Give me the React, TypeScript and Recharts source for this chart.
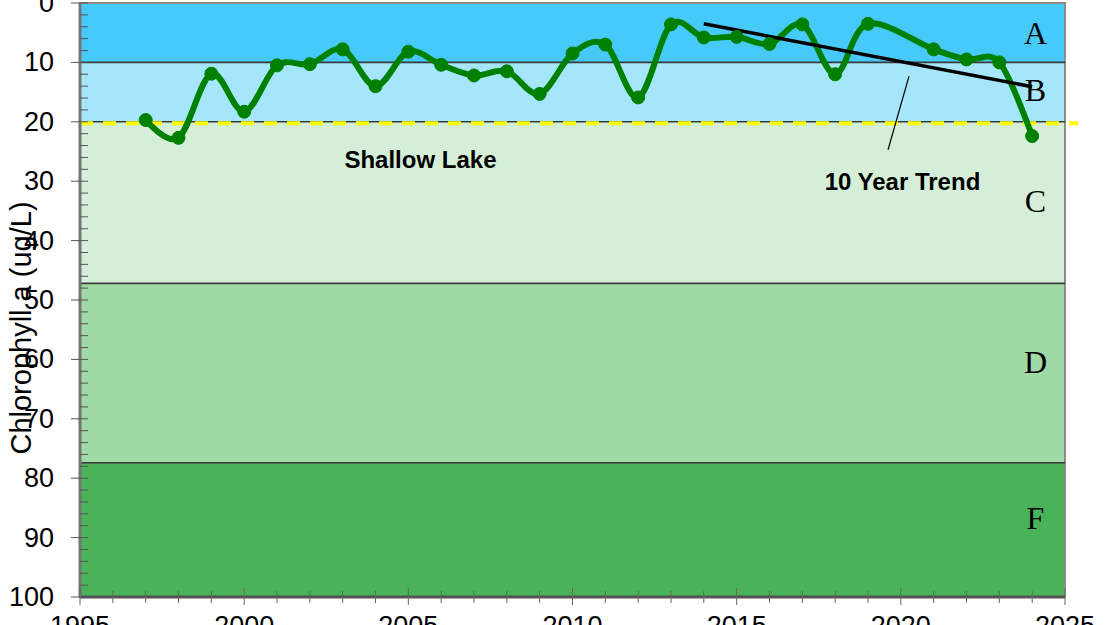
import React from 'react';
import {
  ComposedChart,
  Line,
  XAxis,
  YAxis,
  ReferenceArea,
  ReferenceLine,
  ReferenceDot,
} from 'recharts';

// ---- data ----
const years = [1997, 1998, 1999, 2000, 2001, 2002, 2003, 2004, 2005, 2006, 2007, 2008, 2009, 2010, 2011, 2012, 2013, 2014, 2015, 2016, 2017, 2018, 2019, 2021, 2022, 2023, 2024];
const chlorophyll = [19.7, 22.7, 11.9, 18.3, 10.5, 10.3, 7.8, 14.0, 8.2, 10.4, 12.2, 11.5, 15.3, 8.5, 7.0, 15.9, 3.6, 5.8, 5.7, 6.9, 3.6, 12.0, 3.5, 7.8, 9.5, 10.0, 22.4];

const trendYears = [2014, 2024];
const trendValues = [3.5, 14.1];

const xTicks = [1995, 1996, 1997, 1998, 1999, 2000, 2001, 2002, 2003, 2004, 2005, 2006, 2007, 2008, 2009, 2010, 2011, 2012, 2013, 2014, 2015, 2016, 2017, 2018, 2019, 2020, 2021, 2022, 2023, 2024, 2025];
const yTicks = [0, 2, 4, 6, 8, 10, 12, 14, 16, 18, 20, 22, 24, 26, 28, 30, 32, 34, 36, 38, 40, 42, 44, 46, 48, 50, 52, 54, 56, 58, 60, 62, 64, 66, 68, 70, 72, 74, 76, 78, 80, 82, 84, 86, 88, 90, 92, 94, 96, 98, 100];

const bandNames = ['A', 'B', 'C', 'D', 'F'];
const bandFrom = [0, 10, 20, 47.2, 77.4];
const bandTo = [10, 20, 47.2, 77.4, 100];
const bandColors = ['#45CAFA', '#A5E6FB', '#D5EED7', '#9ED9A6', '#4AB35A'];
const bandLabelY = [5, 14.6, 33.3, 60.4, 86.6];
const bandLabelX = 2024.1;

const shallowLakeStandard = 20.25;

const chartData = years.map((y, i) => ({ year: y, chl: chlorophyll[i] }));
const trendData = trendYears.map((y, i) => ({ year: y, trend: trendValues[i] }));

// Excel-like smoothed line (Catmull-Rom / cardinal, tension 0)
function excelSmooth(context: any) {
  const k = 1 / 6;
  let x0 = NaN, x1 = NaN, x2 = NaN, y0 = NaN, y1 = NaN, y2 = NaN;
  let pt = 0;
  const seg = (x: number, y: number) => {
    context.bezierCurveTo(
      x1 + k * (x2 - x0),
      y1 + k * (y2 - y0),
      x2 + k * (x1 - x),
      y2 + k * (y1 - y),
      x2,
      y2
    );
  };
  return {
    areaStart() {},
    areaEnd() {},
    lineStart() {
      x0 = x1 = x2 = y0 = y1 = y2 = NaN;
      pt = 0;
    },
    lineEnd() {
      if (pt === 2) context.lineTo(x2, y2);
      else if (pt === 3) seg(x1, y1);
    },
    point(xx: number, yy: number) {
      const x = +xx;
      const y = +yy;
      switch (pt) {
        case 0:
          pt = 1;
          context.moveTo(x, y);
          break;
        case 1:
          pt = 2;
          x1 = x;
          y1 = y;
          break;
        case 2:
          pt = 3;
          seg(x, y);
          break;
        default:
          seg(x, y);
          break;
      }
      x0 = x1; x1 = x2; x2 = x;
      y0 = y1; y1 = y2; y2 = y;
    },
  };
}

const FONT = 'Liberation Sans, Arial, sans-serif';

const YTick = (props: any) => {
  const { x, y, payload } = props;
  const major = payload.value % 10 === 0;
  return (
    <g>
      <line x1={major ? x - 9 : x} x2={x + 8} y1={y} y2={y} stroke="#555" strokeWidth={1} />
      {major && (
        <text x={x - 26} y={y} textAnchor="end" dominantBaseline="central" fontSize={27} fontFamily={FONT} fill="#000">
          {payload.value}
        </text>
      )}
    </g>
  );
};

const XTick = (props: any) => {
  const { x, y, payload } = props;
  const major = payload.value % 5 === 0;
  return (
    <g>
      <line x1={x} x2={x} y1={major ? y - 9 : y - 6} y2={major ? y + 8 : y + 6} stroke="#666" strokeWidth={1} />
      {major && (
        <text x={x} y={y + 38} textAnchor="middle" fontSize={27} fontFamily={FONT} fill="#000">
          {payload.value}
        </text>
      )}
    </g>
  );
};

const YLabel = (props: any) => {
  const vb = props.viewBox || { x: 0, y: 0, width: 80, height: 594 };
  const cx = vb.x + 21;
  const cy = vb.y + vb.height / 2 + 28;
  return (
    <text
      x={cx}
      y={cy}
      transform={`rotate(-90, ${cx}, ${cy})`}
      textAnchor="middle"
      dominantBaseline="central"
      fontSize={29}
      fontFamily={FONT}
      fill="#000"
    >
      Chlorophyll a (ug/L)
    </text>
  );
};

export default function App() {
  return (
    <div style={{ width: 1110, height: 625, overflow: 'hidden', background: '#fff' }}>
      <style>{'body{margin:0;overflow:hidden;}'}</style>
      <ComposedChart
        width={1110}
        height={625}
        data={chartData}
        margin={{ top: 3, right: 45, bottom: 0, left: 0 }}
      >
        {bandNames.map((n, i) => (
          <ReferenceArea
            key={n}
            x1={1995}
            x2={2025}
            y1={bandFrom[i]}
            y2={bandTo[i]}
            fill={bandColors[i]}
            fillOpacity={1}
            stroke="none"
          />
        ))}
        {bandFrom.slice(1).map((v) => (
          <ReferenceLine key={'b' + v} y={v} stroke="#3a3a3a" strokeWidth={1.6} />
        ))}
        <ReferenceLine
          segment={[{ x: 1995, y: shallowLakeStandard }, { x: 2025.4, y: shallowLakeStandard }]}
          ifOverflow="visible"
          stroke="#FFFF00"
          strokeWidth={4}
          strokeDasharray="13 10"
        />
        <ReferenceArea x1={1995} x2={2025} y1={0} y2={100} fill="none" stroke="#8c8c8c" strokeWidth={2} />
        <XAxis
          dataKey="year"
          type="number"
          domain={[1995, 2025]}
          ticks={xTicks}
          interval={0}
          allowDataOverflow
          height={28}
          tickSize={0}
          tickMargin={0}
          tick={<XTick />}
          axisLine={{ stroke: '#555', strokeWidth: 3 }}
          tickLine={false}
        />
        <YAxis
          type="number"
          domain={[0, 100]}
          reversed
          ticks={yTicks}
          interval={0}
          width={80}
          tickSize={0}
          tickMargin={0}
          tick={<YTick />}
          axisLine={{ stroke: '#777', strokeWidth: 3 }}
          tickLine={false}
          label={<YLabel />}
        />
        <Line
          data={chartData}
          dataKey="chl"
          type={excelSmooth as any}
          stroke="#008000"
          strokeWidth={6}
          dot={{ r: 6.5, fill: '#008000', stroke: '#008000', strokeWidth: 1 }}
          isAnimationActive={false}
        />
        <Line
          data={trendData}
          dataKey="trend"
          type="linear"
          stroke="#000"
          strokeWidth={3.5}
          dot={false}
          isAnimationActive={false}
        />
        <ReferenceLine
          segment={[{ x: 2020.25, y: 12.3 }, { x: 2019.61, y: 24.7 }]}
          stroke="#000"
          strokeWidth={1.2}
        />
        <ReferenceDot
          x={2005.37}
          y={26.4}
          r={0}
          fill="none"
          stroke="none"
          label={{ value: 'Shallow Lake', position: 'center', fill: '#000', fontSize: 24, fontWeight: 'bold', fontFamily: FONT }}
        />
        <ReferenceDot
          x={2020.05}
          y={30.1}
          r={0}
          fill="none"
          stroke="none"
          label={{ value: '10 Year Trend', position: 'center', fill: '#000', fontSize: 24, fontWeight: 'bold', fontFamily: FONT }}
        />
        {bandNames.map((n, i) => (
          <ReferenceDot
            key={'l' + n}
            x={bandLabelX}
            y={bandLabelY[i]}
            r={0}
            fill="none"
            stroke="none"
            label={{ value: n, position: 'center', fill: '#000', fontSize: 32, fontFamily: 'Liberation Serif, Times New Roman, serif' }}
          />
        ))}
      </ComposedChart>
    </div>
  );
}
